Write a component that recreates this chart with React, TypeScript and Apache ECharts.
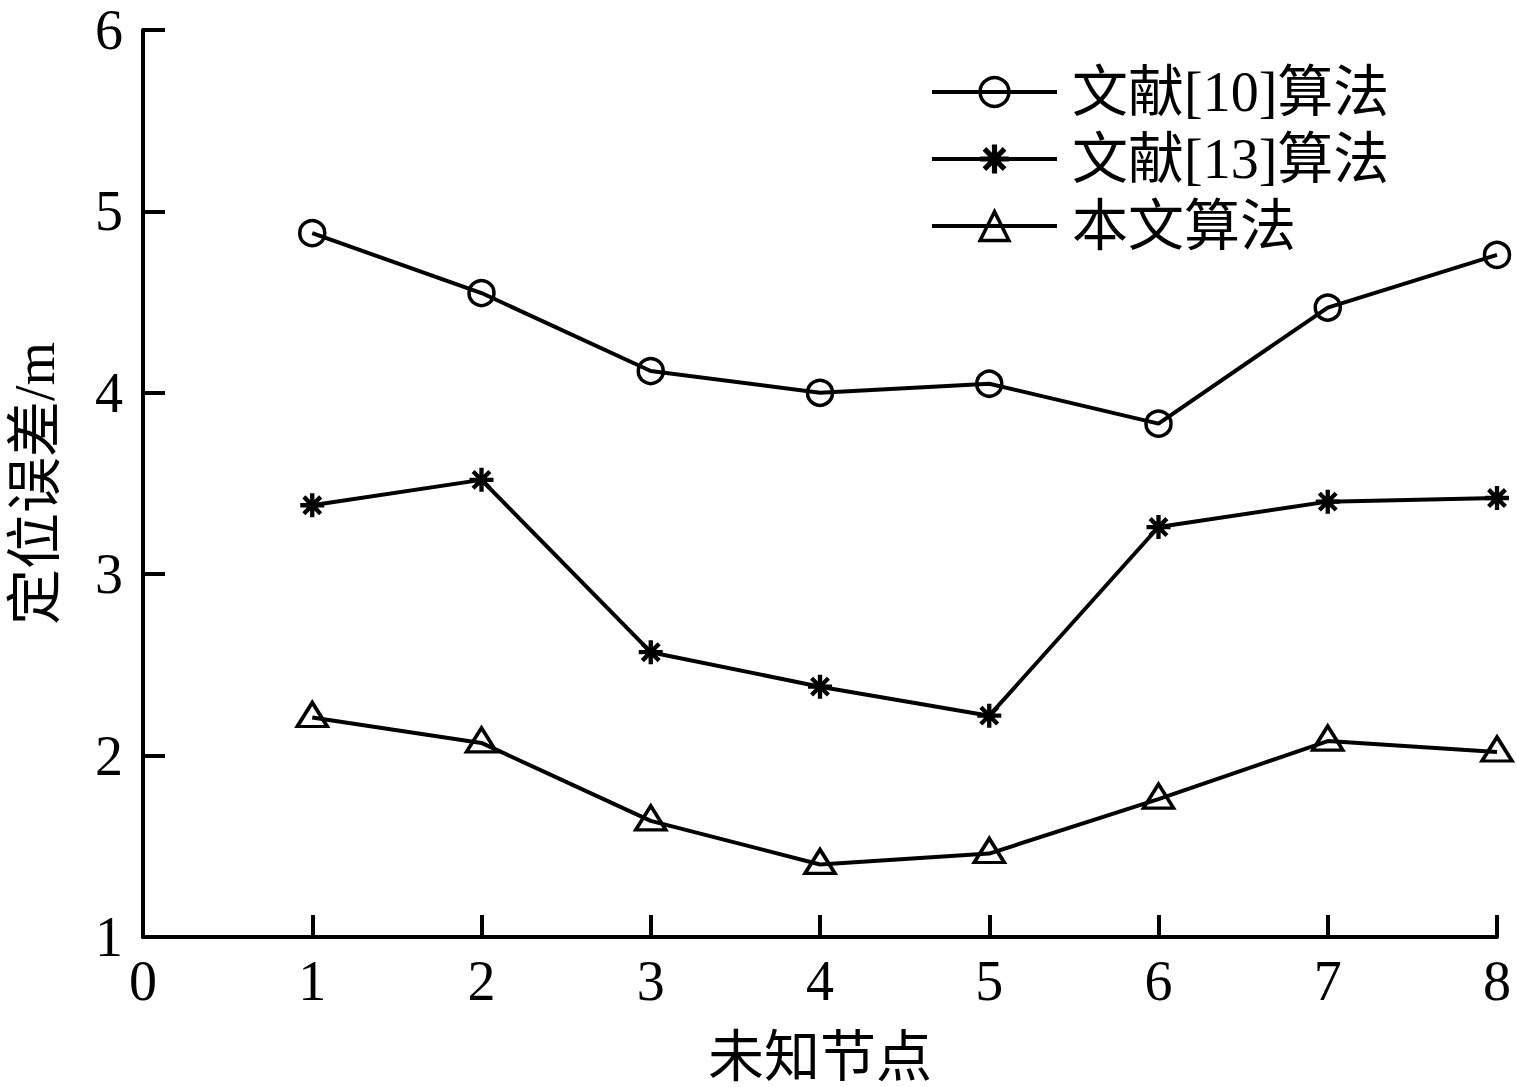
import { useEffect, useRef } from 'react';
import * as echarts from 'echarts';

const nodes = [1, 2, 3, 4, 5, 6, 7, 8];
const ref10 = [4.88, 4.55, 4.12, 4.0, 4.05, 3.83, 4.47, 4.76];
const ref13 = [3.38, 3.52, 2.57, 2.38, 2.22, 3.26, 3.4, 3.42];
const ours = [2.21, 2.07, 1.64, 1.4, 1.46, 1.76, 2.08, 2.02];

const seriesNames = ['文献[10]算法', '文献[13]算法', '本文算法'];

// asterisk marker, all sub-paths wound the same way so they fill solid
const STAR =
  'path://M41 0L59 0L59 100L41 100Z' +
  'M0 41L100 41L100 59L0 59Z' +
  'M21.36 8.64L91.36 78.64L78.64 91.36L8.64 21.36Z' +
  'M78.64 8.64L91.36 21.36L21.36 91.36L8.64 78.64Z';

const FONT = '"Liberation Serif", "Times New Roman", "Noto Sans CJK SC", serif';

export default function App() {
  const chartRef = useRef<HTMLDivElement>(null);

  useEffect(() => {
    if (!chartRef.current) return;
    const chart = echarts.init(chartRef.current, null, { renderer: 'svg' });

    const pairs = (ys: number[]) => nodes.map((x, i) => [x, ys[i]]);

    const baseSeries = {
      type: 'line',
      lineStyle: { color: '#000', width: 4 },
      itemStyle: { color: 'transparent', borderColor: '#000', borderWidth: 3.5 },
      z: 2,
    };

    const option = {
      animation: false,
      backgroundColor: '#fff',
      textStyle: { fontFamily: FONT, color: '#000' },
      grid: { left: 143, right: 20, top: 30, bottom: 150, outerBoundsMode: 'none' },
      legend: {
        orient: 'vertical',
        left: 925,
        top: 59,
        itemWidth: 125,
        itemHeight: 36,
        itemGap: 11,
        data: seriesNames,
        lineStyle: { width: 4, color: '#000' },
        itemStyle: { borderWidth: 3.5 },
        textStyle: { fontFamily: FONT, fontSize: 56, lineHeight: 56, color: '#000', padding: [0, 0, 0, 10] },
      },
      xAxis: {
        type: 'value',
        min: 0,
        max: 8,
        interval: 1,
        name: '未知节点',
        nameLocation: 'middle',
        nameGap: 92,
        nameTextStyle: { fontFamily: FONT, fontSize: 56, color: '#000' },
        axisLine: { show: true, lineStyle: { color: '#000', width: 4 } },
        axisTick: { show: true, inside: true, length: 22, lineStyle: { color: '#000', width: 4 } },
        axisLabel: { fontFamily: FONT, fontSize: 56, color: '#000', margin: 16 },
        splitLine: { show: false },
      },
      yAxis: {
        type: 'value',
        min: 1,
        max: 6,
        interval: 1,
        name: '定位误差/m',
        nameLocation: 'middle',
        nameGap: 80,
        nameTextStyle: { fontFamily: FONT, fontSize: 56, color: '#000' },
        axisLine: { show: true, lineStyle: { color: '#000', width: 4 } },
        axisTick: { show: true, inside: true, length: 22, lineStyle: { color: '#000', width: 4 } },
        axisLabel: { fontFamily: FONT, fontSize: 56, color: '#000', margin: 20 },
        splitLine: { show: false },
      },
      series: [
        {
          ...baseSeries,
          name: seriesNames[0],
          symbol: 'circle',
          symbolSize: 25,
          data: pairs(ref10),
        },
        {
          ...baseSeries,
          name: seriesNames[1],
          symbol: STAR,
          symbolSize: 24,
          itemStyle: { color: '#000', borderColor: 'transparent', borderWidth: 0 },
          data: pairs(ref13),
        },
        {
          ...baseSeries,
          name: seriesNames[2],
          symbol: 'triangle',
          symbolSize: [30, 24],
          symbolOffset: [0, -3],
          data: pairs(ours),
        },
      ],
    };

    chart.setOption(option as any);

    return () => {
      chart.dispose();
    };
  }, []);

  return (
    <div
      ref={chartRef}
      style={{ position: 'fixed', left: 0, top: 0, width: 1517, height: 1087, background: '#fff' }}
    />
  );
}
